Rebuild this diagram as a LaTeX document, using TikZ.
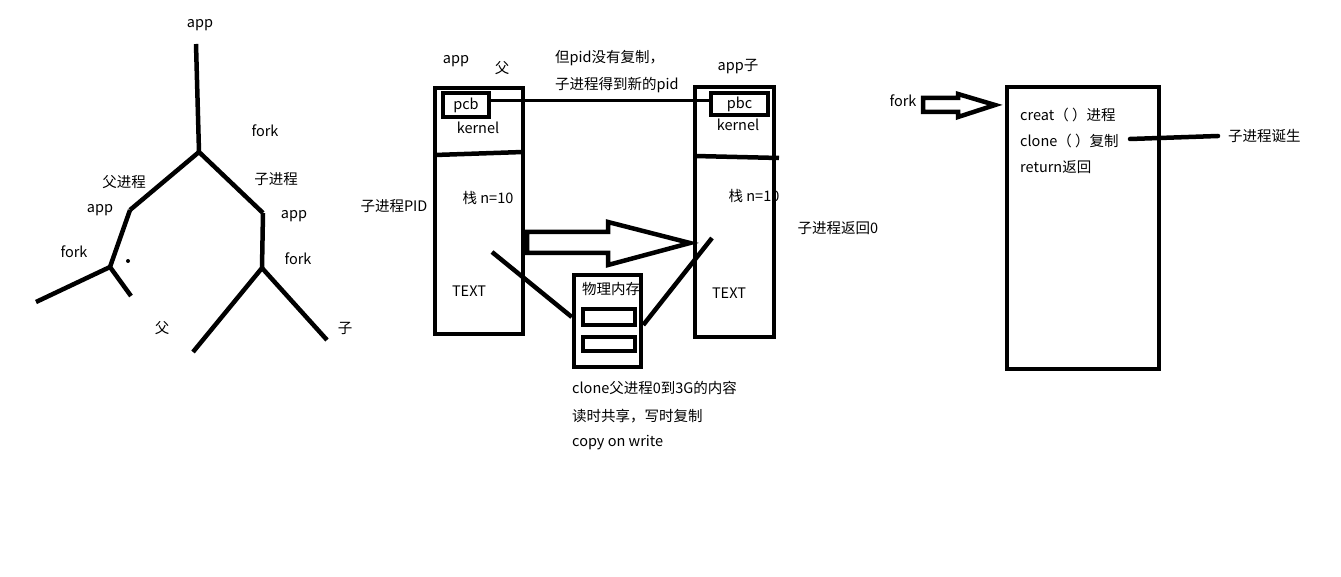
\documentclass[tikz,border=0pt]{standalone}
\usepackage{fontspec}
\setmainfont{Noto Sans CJK SC}
\begin{document}
\begin{tikzpicture}[x=1pt,y=-1pt,
  pen/.style={line width=4.5pt},
  thinpen/.style={line width=3pt},
  lbl/.style={inner sep=0pt, font=\fontsize{14.5}{17}\selectfont},
  lblw/.style={lbl, anchor=west},
  box/.style={draw, line width=4.5pt, inner sep=0pt},
]
\useasboundingbox[fill=white] (0,0) rectangle (1341,577);

% ---------- process tree ----------
\coordinate (t0) at (196,44);
\coordinate (t1) at (199,152);
\coordinate (tl) at (130,210);
\coordinate (tr) at (263,213);
\coordinate (tl2) at (110,267);
\coordinate (tll) at (36,302);
\coordinate (tlr) at (131,296);
\coordinate (tr2) at (262,268);
\coordinate (trl) at (193,352);
\coordinate (trr) at (327,340);
\draw[pen] (t0) -- (t1);
\draw[pen] (tl) -- (t1) -- (tr);
\draw[pen] (tl) -- (tl2);
\draw[pen] (tll) -- (tl2) -- (tlr);
\draw[pen] (tr) -- (tr2);
\draw[pen] (trl) -- (tr2) -- (trr);
\fill (128,261) circle (2);

\node[lbl] (a0) at (200,25) {app};
\node[lbl] (f0) at (265,131) {fork};
\node[lbl] (pp) at (124,182) {父进程};
\node[lbl] (cp) at (276,179) {子进程};
\node[lbl] (a1) at (100,210) {app};
\node[lbl] (a2) at (294,216) {app};
\node[lbl] (f1) at (74,252) {fork};
\node[lbl] (f2) at (298,259) {fork};
\node[lbl] (fa) at (162,328) {父};
\node[lbl] (zi) at (345,328) {子};

% ---------- parent and child address spaces ----------
\node[box, minimum width=88, minimum height=246] (pbox) at (479,211) {};
\node[box, minimum width=79, minimum height=250] (cbox) at (734.5,212) {};
\draw[pen] (435,155) -- (523,152);
\draw[pen] (695,156) -- (779,158);

\node[box, minimum width=46, minimum height=24] (pcb) at (466,105) {};
\node[lbl] at (pcb) {pcb};
\node[box, minimum width=57, minimum height=22] (pbc) at (739.5,104) {};
\node[lbl] at (pbc) {pbc};
\draw[thinpen] ([yshift=4pt]pcb.east) -- ([yshift=3pt]pbc.west);

\node[lbl] (pa) at (456,61) {app};
\node[lbl] (pf) at (502,68) {父};
\node[lbl] (ca) at (738,67) {app子};
\node[lblw] (n1) at (555,58) {但pid没有复制，};
\node[lblw] (n2) at (555,85) {子进程得到新的pid};

\node[lbl] (pk) at (478,128) {kernel};
\node[lbl] (ck) at (738,125) {kernel};
\node[lbl] (ps) at (488,198) {栈 n=10};
\node[lbl] (cs) at (754,196) {栈 n=10};
\node[lbl] (pt) at (469,291) {TEXT};
\node[lbl] (ct) at (729,293) {TEXT};
\node[lbl] (pid) at (394,206) {子进程PID};
\node[lbl] (r0) at (838,228) {子进程返回0};

% copy arrow from parent to child
\draw[pen, line join=miter, fill=white]
  (527,232) -- (608,232) -- (608,222) -- (690,243) -- (608,265)
  -- (608,253) -- (527,253) -- cycle;

% physical memory
\node[box, minimum width=67, minimum height=92] (mem) at (607.5,321) {};
\node[lbl] (memt) at (611,289) {物理内存};
\node[box, minimum width=52, minimum height=16] (m1) at (609,317) {};
\node[box, minimum width=52, minimum height=14] (m2) at (609,344) {};
\coordinate (pl) at (492,252);
\coordinate (cl) at (712,238);
\draw[pen] (pl) -- (m1.west -| mem.west);
\draw[pen] (cl) -- ([yshift=-8pt]m1.east -| mem.east);

\node[lblw] (c1) at (572,388) {clone父进程0到3G的内容};
\node[lblw] (c2) at (572,416) {读时共享，写时复制};
\node[lblw] (c3) at (572,443) {copy on write};

% ---------- fork call ----------
\node[lbl] (fk) at (903,101) {fork};
\draw[pen, line join=miter, fill=white]
  (923,98) -- (958,98) -- (958,94) -- (995,105) -- (958,117)
  -- (958,112) -- (923,112) -- cycle;
\node[box, minimum width=152, minimum height=282] (kbox) at (1083,228) {};
\node[lblw] (k1) at (1020,115) {creat（ ）进程};
\node[lblw] (k2) at (1020,141) {clone（ ）复制};
\node[lblw] (k3) at (1020,167) {return返回};
\node[lblw] (born) at (1228,136) {子进程诞生};
\coordinate (cs) at (1130,139);
\draw[pen, line cap=round] (cs) -- ([xshift=-10pt]born.west);
\end{tikzpicture}
\end{document}
